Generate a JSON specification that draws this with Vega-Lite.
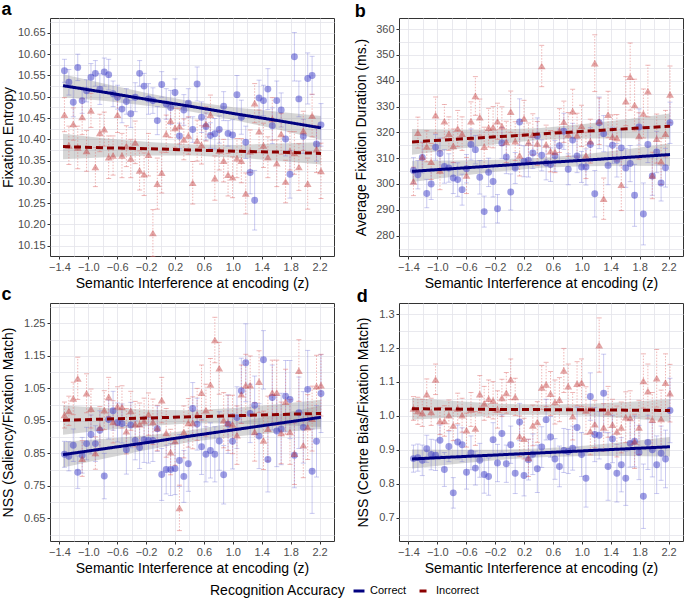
{
"$schema": "https://vega.github.io/schema/vega-lite/v6.json",
"background": "white",
"padding": {"left": 0, "top": 0, "right": 0, "bottom": 0},
"config": {
  "font": "Liberation Sans",
  "view": {"stroke": "#333333", "strokeWidth": 1},
  "axis": {"domain": false, "gridColor": "#e3e3ea", "gridWidth": 0.8, "tickColor": "#333333", "tickSize": 3, "labelColor": "#4d4d4d", "labelFontSize": 11, "labelPadding": 2, "titleFontSize": 14, "titleFontWeight": "normal", "titleColor": "black", "labelOverlap": false, "titlePadding": 4},
  "title": {"anchor": "start", "fontSize": 18, "fontWeight": "bold", "color": "black", "offset": -3, "frame": "bounds"},
  "legend": {"titleFontSize": 14, "titleFontWeight": "normal", "titleColor": "black", "labelFontSize": 11, "labelColor": "black"}
},
"datasets": {
"pts": [
{"x":-1.33,"ac":10.561,"ace":0.027,"ai":10.458,"aie":0.040,"bc":305.2,"bce":5,"bi":301.0,"bie":5.5,"cc":0.847,"cce":0.040,"ci":0.968,"cie":0.040,"dc":0.874,"dce":0.040,"di":1.022,"die":0.035},
{"x":-1.269,"ac":10.534,"ace":0.030,"ai":10.386,"aie":0.045,"bc":303.6,"bce":5.5,"bi":319.9,"bie":6,"cc":0.841,"cce":0.045,"ci":0.981,"cie":0.045,"dc":0.877,"dce":0.040,"di":1.015,"die":0.040},
{"x":-1.208,"ac":10.487,"ace":0.034,"ai":10.436,"aie":0.038,"bc":310.3,"bce":6,"bi":310.5,"bie":5.5,"cc":0.875,"cce":0.050,"ci":1.019,"cie":0.050,"dc":0.869,"dce":0.045,"di":1.009,"die":0.040},
{"x":-1.146,"ac":10.569,"ace":0.031,"ai":10.381,"aie":0.050,"bc":296.3,"bce":5.5,"bi":314.6,"bie":6,"cc":0.792,"cce":0.050,"ci":1.081,"cie":0.065,"dc":0.903,"dce":0.040,"di":1.064,"die":0.045},
{"x":-1.085,"ac":10.491,"ace":0.030,"ai":10.453,"aie":0.042,"bc":300.0,"bce":6,"bi":308.7,"bie":7,"cc":0.844,"cce":0.055,"ci":0.834,"cie":0.055,"dc":0.886,"dce":0.045,"di":1.012,"die":0.040},
{"x":-1.024,"ac":10.514,"ace":0.026,"ai":10.373,"aie":0.048,"bc":314.2,"bce":5,"bi":326.7,"bie":7,"cc":0.880,"cce":0.050,"ci":1.035,"cie":0.060,"dc":0.884,"dce":0.045,"di":1.108,"die":0.045},
{"x":-0.963,"ac":10.546,"ace":0.032,"ai":10.468,"aie":0.040,"bc":311.8,"bce":6,"bi":305.3,"bie":7.5,"cc":0.908,"cce":0.060,"ci":0.988,"cie":0.060,"dc":0.928,"dce":0.045,"di":0.985,"die":0.040},
{"x":-0.902,"ac":10.555,"ace":0.030,"ai":10.335,"aie":0.046,"bc":306.8,"bce":6.5,"bi":324.3,"bie":6.5,"cc":0.880,"cce":0.055,"ci":0.851,"cie":0.050,"dc":0.842,"dce":0.050,"di":0.985,"die":0.045},
{"x":-0.84,"ac":10.518,"ace":0.036,"ai":10.415,"aie":0.044,"bc":306.2,"bce":5.5,"bi":319.5,"bie":6.5,"cc":0.921,"cce":0.060,"ci":0.929,"cie":0.065,"dc":0.910,"dce":0.045,"di":1.002,"die":0.045},
{"x":-0.779,"ac":10.558,"ace":0.033,"ai":10.424,"aie":0.040,"bc":302.3,"bce":6,"bi":314.8,"bie":6.5,"cc":0.780,"cce":0.070,"ci":0.983,"cie":0.060,"dc":0.773,"dce":0.045,"di":0.972,"die":0.045},
{"x":-0.718,"ac":10.552,"ace":0.036,"ai":10.358,"aie":0.050,"bc":301.7,"bce":6.5,"bi":321.5,"bie":7,"cc":0.954,"cce":0.060,"ci":1.024,"cie":0.060,"dc":0.923,"dce":0.050,"di":1.022,"die":0.045},
{"x":-0.657,"ac":10.507,"ace":0.030,"ai":10.362,"aie":0.046,"bc":297.8,"bce":6,"bi":319.5,"bie":6.5,"cc":0.981,"cce":0.060,"ci":0.947,"cie":0.065,"dc":0.915,"dce":0.050,"di":1.002,"die":0.050},
{"x":-0.596,"ac":10.499,"ace":0.028,"ai":10.458,"aie":0.042,"bc":305.9,"bce":5.5,"bi":303.3,"bie":7,"cc":0.945,"cce":0.060,"ci":0.995,"cie":0.060,"dc":0.834,"dce":0.050,"di":0.958,"die":0.050},
{"x":-0.534,"ac":10.471,"ace":0.032,"ai":10.362,"aie":0.052,"bc":315.3,"bce":6,"bi":324.3,"bie":7.5,"cc":0.942,"cce":0.060,"ci":0.993,"cie":0.065,"dc":0.891,"dce":0.050,"di":1.019,"die":0.050},
{"x":-0.473,"ac":10.489,"ace":0.030,"ai":10.384,"aie":0.048,"bc":313.3,"bce":5.5,"bi":334.1,"bie":7.5,"cc":0.861,"cce":0.075,"ci":0.918,"cie":0.070,"dc":0.846,"dce":0.050,"di":0.963,"die":0.050},
{"x":-0.412,"ac":10.460,"ace":0.032,"ai":10.355,"aie":0.045,"bc":302.6,"bce":6.5,"bi":325.9,"bie":7,"cc":0.937,"cce":0.070,"ci":0.981,"cie":0.060,"dc":0.869,"dce":0.050,"di":1.064,"die":0.055},
{"x":-0.351,"ac":10.499,"ace":0.034,"ai":10.393,"aie":0.050,"bc":289.3,"bce":6,"bi":314.5,"bie":7.5,"cc":0.890,"cce":0.060,"ci":0.940,"cie":0.070,"dc":0.827,"dce":0.055,"di":1.037,"die":0.050},
{"x":-0.29,"ac":10.555,"ace":0.030,"ai":10.327,"aie":0.046,"bc":304.5,"bce":5.5,"bi":321.8,"bie":7.5,"cc":0.868,"cce":0.065,"ci":0.940,"cie":0.065,"dc":0.821,"dce":0.055,"di":1.051,"die":0.055},
{"x":-0.228,"ac":10.525,"ace":0.030,"ai":10.318,"aie":0.050,"bc":301.0,"bce":6,"bi":322.0,"bie":8,"cc":0.892,"cce":0.070,"ci":0.950,"cie":0.070,"dc":0.930,"dce":0.050,"di":1.046,"die":0.055},
{"x":-0.167,"ac":10.495,"ace":0.036,"ai":10.364,"aie":0.050,"bc":290.4,"bce":5.5,"bi":324.3,"bie":7,"cc":0.890,"cce":0.070,"ci":0.971,"cie":0.065,"dc":0.861,"dce":0.055,"di":1.019,"die":0.055},
{"x":-0.106,"ac":10.491,"ace":0.030,"ai":10.180,"aie":0.055,"bc":315.9,"bce":6,"bi":322.4,"bie":7.5,"cc":0.890,"cce":0.065,"ci":0.947,"cie":0.070,"dc":0.948,"dce":0.055,"di":1.053,"die":0.055},
{"x":-0.045,"ac":10.444,"ace":0.033,"ai":10.296,"aie":0.060,"bc":310.5,"bce":6.5,"bi":316.3,"bie":8,"cc":0.926,"cce":0.070,"ci":0.928,"cie":0.070,"dc":0.859,"dce":0.055,"di":1.068,"die":0.060},
{"x":0.016,"ac":10.529,"ace":0.030,"ai":10.322,"aie":0.048,"bc":296.9,"bce":7,"bi":328.0,"bie":8,"cc":0.785,"cce":0.080,"ci":1.014,"cie":0.070,"dc":0.915,"dce":0.055,"di":1.108,"die":0.060},
{"x":0.078,"ac":10.483,"ace":0.036,"ai":10.413,"aie":0.044,"bc":306.2,"bce":6,"bi":316.6,"bie":7.5,"cc":0.800,"cce":0.075,"ci":0.913,"cie":0.075,"dc":0.831,"dce":0.060,"di":1.056,"die":0.055},
{"x":0.139,"ac":10.475,"ace":0.040,"ai":10.444,"aie":0.040,"bc":324.0,"bce":9,"bi":311.1,"bie":8,"cc":0.800,"cce":0.080,"ci":0.854,"cie":0.070,"dc":0.982,"dce":0.055,"di":0.940,"die":0.060},
{"x":0.2,"ac":10.510,"ace":0.032,"ai":10.427,"aie":0.046,"bc":308.8,"bce":6,"bi":325.4,"bie":7,"cc":0.803,"cce":0.080,"ci":0.888,"cie":0.075,"dc":0.824,"dce":0.060,"di":0.933,"die":0.060},
{"x":0.261,"ac":10.408,"ace":0.030,"ai":10.431,"aie":0.042,"bc":309.2,"bce":6.5,"bi":316.1,"bie":7.5,"cc":0.828,"cce":0.080,"ci":0.682,"cie":0.070,"dc":0.871,"dce":0.060,"di":0.876,"die":0.055},
{"x":0.322,"ac":10.469,"ace":0.036,"ai":10.400,"aie":0.048,"bc":312.0,"bce":6,"bi":319.2,"bie":8,"cc":0.779,"cce":0.080,"ci":0.916,"cie":0.080,"dc":0.887,"dce":0.060,"di":0.972,"die":0.060},
{"x":0.384,"ac":10.485,"ace":0.034,"ai":10.409,"aie":0.044,"bc":318.6,"bce":7,"bi":315.7,"bie":8.5,"cc":0.818,"cce":0.085,"ci":0.944,"cie":0.075,"dc":0.844,"dce":0.070,"di":0.982,"die":0.060},
{"x":0.445,"ac":10.423,"ace":0.030,"ai":10.298,"aie":0.050,"bc":311.1,"bce":6,"bi":345.7,"bie":8,"cc":0.988,"cce":0.080,"ci":0.944,"cie":0.080,"dc":0.908,"dce":0.060,"di":1.084,"die":0.065},
{"x":0.506,"ac":10.530,"ace":0.040,"ai":10.397,"aie":0.048,"bc":308.1,"bce":6.5,"bi":315.3,"bie":7.5,"cc":0.940,"cce":0.080,"ci":0.970,"cie":0.080,"dc":0.989,"dce":0.060,"di":1.093,"die":0.065},
{"x":0.567,"ac":10.452,"ace":0.036,"ai":10.387,"aie":0.045,"bc":307.5,"bce":6.5,"bi":312.7,"bie":8,"cc":0.870,"cce":0.085,"ci":1.037,"cie":0.085,"dc":0.938,"dce":0.060,"di":1.066,"die":0.065},
{"x":0.628,"ac":10.430,"ace":0.032,"ai":10.436,"aie":0.040,"bc":310.9,"bce":6,"bi":312.4,"bie":8,"cc":0.847,"cce":0.085,"ci":0.983,"cie":0.080,"dc":0.873,"dce":0.060,"di":1.041,"die":0.065},
{"x":0.69,"ac":10.409,"ace":0.030,"ai":10.458,"aie":0.046,"bc":314.8,"bce":6.5,"bi":320.7,"bie":8.5,"cc":0.859,"cce":0.085,"ci":1.062,"cie":0.080,"dc":0.851,"dce":0.060,"di":1.048,"die":0.065},
{"x":0.751,"ac":10.413,"ace":0.036,"ai":10.309,"aie":0.052,"bc":320.4,"bce":7,"bi":324.1,"bie":8,"cc":0.847,"cce":0.085,"ci":1.199,"cie":0.070,"dc":0.898,"dce":0.065,"di":1.134,"die":0.065},
{"x":0.812,"ac":10.423,"ace":0.032,"ai":10.374,"aie":0.046,"bc":305.7,"bce":6,"bi":319.2,"bie":8.5,"cc":0.888,"cce":0.090,"ci":1.112,"cie":0.080,"dc":0.895,"dce":0.065,"di":1.088,"die":0.065},
{"x":0.873,"ac":10.478,"ace":0.034,"ai":10.350,"aie":0.050,"bc":317.0,"bce":6.5,"bi":328.2,"bie":8.5,"cc":0.784,"cce":0.090,"ci":0.952,"cie":0.085,"dc":0.905,"dce":0.065,"di":0.999,"die":0.070},
{"x":0.934,"ac":10.414,"ace":0.030,"ai":10.317,"aie":0.050,"bc":310.9,"bce":6.5,"bi":318.9,"bie":8.5,"cc":0.940,"cce":0.090,"ci":0.944,"cie":0.085,"dc":0.966,"dce":0.060,"di":1.095,"die":0.065},
{"x":0.996,"ac":10.410,"ace":0.036,"ai":10.311,"aie":0.048,"bc":306.6,"bce":6,"bi":322.5,"bie":8,"cc":0.887,"cce":0.085,"ci":0.939,"cie":0.090,"dc":0.886,"dce":0.065,"di":1.098,"die":0.070},
{"x":1.057,"ac":10.505,"ace":0.045,"ai":10.356,"aie":0.046,"bc":306.6,"bce":7,"bi":311.1,"bie":9,"cc":0.960,"cce":0.095,"ci":0.906,"cie":0.090,"dc":0.816,"dce":0.085,"di":1.016,"die":0.070},
{"x":1.118,"ac":10.452,"ace":0.040,"ai":10.350,"aie":0.052,"bc":315.3,"bce":6.5,"bi":316.6,"bie":8.5,"cc":1.043,"cce":0.100,"ci":1.032,"cie":0.090,"dc":1.057,"dce":0.070,"di":0.955,"die":0.070},
{"x":1.179,"ac":10.393,"ace":0.038,"ai":10.273,"aie":0.048,"bc":296.2,"bce":9,"bi":346.8,"bie":11,"cc":1.129,"cce":0.120,"ci":1.060,"cie":0.095,"dc":0.945,"dce":0.080,"di":0.976,"die":0.070},
{"x":1.24,"ac":10.322,"ace":0.050,"ai":10.372,"aie":0.050,"bc":323.7,"bce":10,"bi":324.3,"bie":9,"cc":0.973,"cce":0.090,"ci":1.060,"cie":0.090,"dc":0.943,"dce":0.070,"di":1.209,"die":0.080},
{"x":1.302,"ac":10.257,"ace":0.070,"ai":10.485,"aie":0.046,"bc":319.5,"bce":7,"bi":294.3,"bie":8,"cc":0.998,"cce":0.090,"ci":0.916,"cie":0.090,"dc":1.067,"dce":0.115,"di":0.966,"die":0.070},
{"x":1.363,"ac":10.497,"ace":0.042,"ai":10.419,"aie":0.050,"bc":307.2,"bce":7.5,"bi":326.9,"bie":9,"cc":0.903,"cce":0.100,"ci":1.071,"cie":0.095,"dc":0.851,"dce":0.100,"di":1.012,"die":0.075},
{"x":1.424,"ac":10.491,"ace":0.036,"ai":10.386,"aie":0.052,"bc":315.0,"bce":7,"bi":318.3,"bie":8.5,"cc":1.138,"cce":0.090,"ci":0.890,"cie":0.090,"dc":0.932,"dce":0.070,"di":0.974,"die":0.075},
{"x":1.485,"ac":10.518,"ace":0.048,"ai":10.358,"aie":0.048,"bc":309.2,"bce":6.5,"bi":317.9,"bie":9,"cc":0.831,"cce":0.100,"ci":0.926,"cie":0.100,"dc":0.831,"dce":0.085,"di":0.954,"die":0.075},
{"x":1.546,"ac":10.432,"ace":0.042,"ai":10.448,"aie":0.050,"bc":314.0,"bce":7,"bi":299.7,"bie":10,"cc":1.022,"cce":0.100,"ci":1.037,"cie":0.100,"dc":0.856,"dce":0.080,"di":0.966,"die":0.075},
{"x":1.608,"ac":10.491,"ace":0.046,"ai":10.344,"aie":0.055,"bc":306.2,"bce":7.5,"bi":332.1,"bie":9.5,"cc":0.919,"cce":0.110,"ci":1.037,"cie":0.100,"dc":0.816,"dce":0.080,"di":0.996,"die":0.075},
{"x":1.669,"ac":10.469,"ace":0.040,"ai":10.413,"aie":0.048,"bc":307.9,"bce":7,"bi":341.6,"bie":13,"cc":0.925,"cce":0.110,"ci":0.913,"cie":0.095,"dc":0.919,"dce":0.070,"di":0.994,"die":0.080},
{"x":1.73,"ac":10.401,"ace":0.040,"ai":10.301,"aie":0.050,"bc":295.6,"bce":12,"bi":330.6,"bie":10,"cc":1.026,"cce":0.110,"ci":1.009,"cie":0.100,"dc":0.925,"dce":0.075,"di":0.925,"die":0.080},
{"x":1.791,"ac":10.318,"ace":0.056,"ai":10.373,"aie":0.045,"bc":322.1,"bce":7,"bi":318.6,"bie":9,"cc":1.016,"cce":0.120,"ci":0.916,"cie":0.100,"dc":0.892,"dce":0.080,"di":0.966,"die":0.080},
{"x":1.852,"ac":10.594,"ace":0.057,"ai":10.368,"aie":0.050,"bc":288.4,"bce":12,"bi":327.3,"bie":9.5,"cc":0.844,"cce":0.100,"ci":0.849,"cie":0.095,"dc":0.763,"dce":0.095,"di":1.103,"die":0.080},
{"x":1.914,"ac":10.495,"ace":0.042,"ai":10.335,"aie":0.055,"bc":315.3,"bce":7,"bi":336.0,"bie":10,"cc":0.975,"cce":0.110,"ci":1.105,"cie":0.095,"dc":0.922,"dce":0.080,"di":1.073,"die":0.080},
{"x":1.975,"ac":10.407,"ace":0.040,"ai":10.420,"aie":0.046,"bc":303.1,"bce":7.5,"bi":303.3,"bie":9,"cc":0.930,"cce":0.110,"ci":0.875,"cie":0.100,"dc":0.900,"dce":0.080,"di":0.989,"die":0.080},
{"x":2.036,"ac":10.543,"ace":0.060,"ai":10.296,"aie":0.060,"bc":312.4,"bce":8,"bi":317.6,"bie":9.5,"cc":1.047,"cce":0.120,"ci":0.931,"cie":0.100,"dc":0.856,"dce":0.085,"di":1.111,"die":0.085},
{"x":2.097,"ac":10.550,"ace":0.045,"ai":10.456,"aie":0.050,"bc":300.4,"bce":7,"bi":308.8,"bie":9,"cc":0.795,"cce":0.130,"ci":0.957,"cie":0.100,"dc":0.890,"dce":0.080,"di":0.991,"die":0.085},
{"x":2.158,"ac":10.389,"ace":0.040,"ai":10.377,"aie":0.055,"bc":306.3,"bce":7.5,"bi":319.5,"bie":9,"cc":0.887,"cce":0.110,"ci":1.057,"cie":0.095,"dc":0.873,"dce":0.085,"di":1.098,"die":0.085},
{"x":2.22,"ac":10.434,"ace":0.050,"ai":10.326,"aie":0.065,"bc":323.7,"bce":8,"bi":334.7,"bie":11,"cc":1.034,"cce":0.120,"ci":1.060,"cie":0.095,"dc":1.016,"dce":0.095,"di":1.067,"die":0.085}
],
"fa": [
{"g":"C","x":-1.35,"f":10.526,"lo":10.499,"hi":10.553},
{"g":"C","x":-0.755,"f":10.510,"lo":10.490,"hi":10.530},
{"g":"C","x":-0.16,"f":10.493,"lo":10.4785,"hi":10.5075},
{"g":"C","x":0.435,"f":10.477,"lo":10.465,"hi":10.489},
{"g":"C","x":1.03,"f":10.460,"lo":10.445,"hi":10.475},
{"g":"C","x":1.625,"f":10.444,"lo":10.423,"hi":10.465},
{"g":"C","x":2.22,"f":10.427,"lo":10.399,"hi":10.455},
{"g":"I","x":-1.35,"f":10.383,"lo":10.353,"hi":10.413},
{"g":"I","x":-0.755,"f":10.380,"lo":10.358,"hi":10.402},
{"g":"I","x":-0.16,"f":10.378,"lo":10.362,"hi":10.394},
{"g":"I","x":0.435,"f":10.375,"lo":10.362,"hi":10.388},
{"g":"I","x":1.03,"f":10.372,"lo":10.357,"hi":10.387},
{"g":"I","x":1.625,"f":10.370,"lo":10.350,"hi":10.390},
{"g":"I","x":2.22,"f":10.367,"lo":10.341,"hi":10.393}
],
"fb": [
{"g":"C","x":-1.35,"f":304.9,"lo":300.8,"hi":309.0},
{"g":"C","x":-0.755,"f":306.0,"lo":302.9,"hi":309.1},
{"g":"C","x":-0.16,"f":307.1,"lo":304.8,"hi":309.4},
{"g":"C","x":0.435,"f":308.2,"lo":306.3,"hi":310.1},
{"g":"C","x":1.03,"f":309.2,"lo":306.9,"hi":311.5},
{"g":"C","x":1.625,"f":310.3,"lo":307.1,"hi":313.5},
{"g":"C","x":2.22,"f":311.4,"lo":307.0,"hi":315.8},
{"g":"I","x":-1.35,"f":316.3,"lo":311.3,"hi":321.3},
{"g":"I","x":-0.755,"f":317.3,"lo":313.5,"hi":321.1},
{"g":"I","x":-0.16,"f":318.3,"lo":315.5,"hi":321.1},
{"g":"I","x":0.435,"f":319.4,"lo":317.1,"hi":321.7},
{"g":"I","x":1.03,"f":320.4,"lo":317.6,"hi":323.2},
{"g":"I","x":1.625,"f":321.4,"lo":317.7,"hi":325.1},
{"g":"I","x":2.22,"f":322.4,"lo":317.5,"hi":327.3}
],
"fc": [
{"g":"C","x":-1.35,"f":0.846,"lo":0.806,"hi":0.886},
{"g":"C","x":-0.755,"f":0.865,"lo":0.835,"hi":0.895},
{"g":"C","x":-0.16,"f":0.884,"lo":0.862,"hi":0.906},
{"g":"C","x":0.435,"f":0.904,"lo":0.886,"hi":0.922},
{"g":"C","x":1.03,"f":0.923,"lo":0.902,"hi":0.944},
{"g":"C","x":1.625,"f":0.942,"lo":0.914,"hi":0.970},
{"g":"C","x":2.22,"f":0.961,"lo":0.925,"hi":0.997},
{"g":"I","x":-1.35,"f":0.952,"lo":0.907,"hi":0.997},
{"g":"I","x":-0.755,"f":0.9555,"lo":0.9215,"hi":0.9895},
{"g":"I","x":-0.16,"f":0.959,"lo":0.934,"hi":0.984},
{"g":"I","x":0.435,"f":0.9625,"lo":0.9425,"hi":0.9825},
{"g":"I","x":1.03,"f":0.966,"lo":0.942,"hi":0.990},
{"g":"I","x":1.625,"f":0.9695,"lo":0.9375,"hi":1.0015},
{"g":"I","x":2.22,"f":0.973,"lo":0.931,"hi":1.015}
],
"fd": [
{"g":"C","x":-1.35,"f":0.873,"lo":0.845,"hi":0.901},
{"g":"C","x":-0.755,"f":0.879,"lo":0.858,"hi":0.900},
{"g":"C","x":-0.16,"f":0.885,"lo":0.870,"hi":0.900},
{"g":"C","x":0.435,"f":0.891,"lo":0.878,"hi":0.904},
{"g":"C","x":1.03,"f":0.897,"lo":0.882,"hi":0.912},
{"g":"C","x":1.625,"f":0.903,"lo":0.882,"hi":0.924},
{"g":"C","x":2.22,"f":0.909,"lo":0.880,"hi":0.938},
{"g":"I","x":-1.35,"f":1.021,"lo":0.989,"hi":1.053},
{"g":"I","x":-0.755,"f":1.020,"lo":0.996,"hi":1.044},
{"g":"I","x":-0.16,"f":1.019,"lo":1.002,"hi":1.036},
{"g":"I","x":0.435,"f":1.0185,"lo":1.0035,"hi":1.0335},
{"g":"I","x":1.03,"f":1.018,"lo":1.001,"hi":1.035},
{"g":"I","x":1.625,"f":1.017,"lo":0.993,"hi":1.041},
{"g":"I","x":2.22,"f":1.016,"lo":0.983,"hi":1.049}
]
},
"columns": 2,
"bounds": "flush",
"spacing": {"row": 47, "column": 65},
"concat": [
{
 "width": 284, "height": 238,
 "title": {"text": "a"},
 "encoding": {
  "x": {"field": "x", "type": "quantitative", "title": "Semantic Interference at encoding (z)", "scale": {"domain": [-1.53, 2.4], "nice": false, "zero": false},
    "axis": {"labelOverlap": false, "values": [-1.4,-1.2,-1.0,-0.8,-0.6,-0.4,-0.2,0,0.2,0.4,0.6,0.8,1.0,1.2,1.4,1.6,1.8,2.0,2.2],
      "labelExpr": "abs((datum.value+1.4)/0.4 - round((datum.value+1.4)/0.4)) < 0.01 ? replace(format(datum.value, '.1f'), '-', '\u2212') : ''",
      "tickOpacity": {"condition": {"test": "abs((datum.value+1.4)/0.4 - round((datum.value+1.4)/0.4)) < 0.01", "value": 1}, "value": 0}}},
  "y": {"field": "v", "type": "quantitative", "title": "Fixation Entropy", "scale": {"domain": [10.126, 10.685], "nice": false, "zero": false},
    "axis": {"labelOverlap": false, "titlePadding": 2, "values": [10.15,10.175,10.2,10.225,10.25,10.275,10.3,10.325,10.35,10.375,10.4,10.425,10.45,10.475,10.5,10.525,10.55,10.575,10.6,10.625,10.65,10.675],
      "labelExpr": "abs(datum.value*20 - round(datum.value*20)) < 0.001 ? format(datum.value, '.2f') : ''",
      "tickOpacity": {"condition": {"test": "abs(datum.value*20 - round(datum.value*20)) < 0.001", "value": 1}, "value": 0}}}
 },
 "layer": [
  {"data": {"name": "fa"}, "transform": [{"fold": ["lo"], "as": ["k", "v"]}], "mark": {"type": "area", "fill": "#999999", "opacity": 0.4},
   "encoding": {"y2": {"field": "hi"}, "detail": {"field": "g"}}},
  {"data": {"name": "pts"}, "transform": [{"fold": ["ac"], "as": ["k", "v"]}, {"fold": ["ace"], "as": ["k2", "e"]}], "mark": {"type": "errorbar", "color": "#6a6ad6", "opacity": 0.35, "thickness": 1, "ticks": {"size": 5}},
   "encoding": {"yError": {"field": "e"}}},
  {"data": {"name": "pts"}, "transform": [{"fold": ["ai"], "as": ["k", "v"]}, {"fold": ["aie"], "as": ["k2", "e"]}], "mark": {"type": "errorbar", "color": "#e07070", "opacity": 0.5, "thickness": 1, "ticks": {"size": 5, "strokeDash": [1.5, 1.5]}, "rule": {"strokeDash": [1.5, 1.5]}},
   "encoding": {"yError": {"field": "e"}}},
  {"data": {"name": "pts"}, "transform": [{"fold": ["ac"], "as": ["k", "v"]}], "mark": {"type": "point", "shape": "circle", "filled": true, "color": "#3434c4", "opacity": 0.48, "size": 48, "strokeWidth": 0}},
  {"data": {"name": "pts"}, "transform": [{"fold": ["ai"], "as": ["k", "v"]}], "mark": {"type": "point", "shape": "triangle-up", "filled": true, "color": "#c03838", "opacity": 0.45, "size": 60, "strokeWidth": 0}},
  {"data": {"name": "fa"}, "transform": [{"fold": ["f"], "as": ["k", "v"]}], "mark": {"type": "line", "strokeWidth": 3},
   "encoding": {
    "stroke": {"field": "g", "type": "nominal", "scale": {"domain": ["C", "I"], "range": ["#000080", "#8b0000"]},
      "legend": {"title": "Recognition Accuracy", "orient": "none", "legendX": 160, "legendY": 566, "direction": "horizontal", "titleOrient": "left", "titlePadding": 6, "columnPadding": 6, "labelOffset": 4, "labelExpr": "datum.label == 'C' ? 'Correct' : 'Incorrect'", "symbolStrokeWidth": 3, "symbolSize": 120}},
    "strokeDash": {"field": "g", "type": "nominal", "scale": {"domain": ["C", "I"], "range": [[1, 0], [7, 4]]},
      "legend": {"title": "Recognition Accuracy", "orient": "none", "legendX": 160, "legendY": 566, "direction": "horizontal", "titleOrient": "left", "titlePadding": 6, "columnPadding": 6, "labelOffset": 4, "labelExpr": "datum.label == 'C' ? 'Correct' : 'Incorrect'", "symbolStrokeWidth": 3, "symbolSize": 120}}}}
 ]
},
{
 "width": 284, "height": 238,
 "title": {"text": "b"},
 "encoding": {
  "x": {"field": "x", "type": "quantitative", "title": "Semantic Interference at encoding (z)", "scale": {"domain": [-1.53, 2.4], "nice": false, "zero": false},
    "axis": {"labelOverlap": false, "values": [-1.4,-1.2,-1.0,-0.8,-0.6,-0.4,-0.2,0,0.2,0.4,0.6,0.8,1.0,1.2,1.4,1.6,1.8,2.0,2.2],
      "labelExpr": "abs((datum.value+1.4)/0.4 - round((datum.value+1.4)/0.4)) < 0.01 ? replace(format(datum.value, '.1f'), '-', '\u2212') : ''",
      "tickOpacity": {"condition": {"test": "abs((datum.value+1.4)/0.4 - round((datum.value+1.4)/0.4)) < 0.01", "value": 1}, "value": 0}}},
  "y": {"field": "v", "type": "quantitative", "title": "Average Fixation Duration (ms.)", "scale": {"domain": [272.1, 364.3], "nice": false, "zero": false},
    "axis": {"labelOverlap": false, "titlePadding": 7, "values": [275,280,285,290,295,300,305,310,315,320,325,330,335,340,345,350,355,360],
      "labelExpr": "datum.value % 10 == 0 ? format(datum.value, 'd') : ''",
      "tickOpacity": {"condition": {"test": "datum.value % 10 == 0", "value": 1}, "value": 0}}}
 },
 "layer": [
  {"data": {"name": "fb"}, "transform": [{"fold": ["lo"], "as": ["k", "v"]}], "mark": {"type": "area", "fill": "#999999", "opacity": 0.4},
   "encoding": {"y2": {"field": "hi"}, "detail": {"field": "g"}}},
  {"data": {"name": "pts"}, "transform": [{"fold": ["bc"], "as": ["k", "v"]}, {"fold": ["bce"], "as": ["k2", "e"]}], "mark": {"type": "errorbar", "color": "#6a6ad6", "opacity": 0.35, "thickness": 1, "ticks": {"size": 5}},
   "encoding": {"yError": {"field": "e"}}},
  {"data": {"name": "pts"}, "transform": [{"fold": ["bi"], "as": ["k", "v"]}, {"fold": ["bie"], "as": ["k2", "e"]}], "mark": {"type": "errorbar", "color": "#e07070", "opacity": 0.5, "thickness": 1, "ticks": {"size": 5, "strokeDash": [1.5, 1.5]}, "rule": {"strokeDash": [1.5, 1.5]}},
   "encoding": {"yError": {"field": "e"}}},
  {"data": {"name": "pts"}, "transform": [{"fold": ["bc"], "as": ["k", "v"]}], "mark": {"type": "point", "shape": "circle", "filled": true, "color": "#3434c4", "opacity": 0.48, "size": 48, "strokeWidth": 0}},
  {"data": {"name": "pts"}, "transform": [{"fold": ["bi"], "as": ["k", "v"]}], "mark": {"type": "point", "shape": "triangle-up", "filled": true, "color": "#c03838", "opacity": 0.45, "size": 60, "strokeWidth": 0}},
  {"data": {"name": "fb"}, "transform": [{"fold": ["f"], "as": ["k", "v"]}], "mark": {"type": "line", "strokeWidth": 3},
   "encoding": {
    "stroke": {"field": "g", "type": "nominal", "scale": {"domain": ["C", "I"], "range": ["#000080", "#8b0000"]},
      "legend": {"title": "Recognition Accuracy", "orient": "none", "legendX": 160, "legendY": 566, "direction": "horizontal", "titleOrient": "left", "titlePadding": 6, "columnPadding": 6, "labelOffset": 4, "labelExpr": "datum.label == 'C' ? 'Correct' : 'Incorrect'", "symbolStrokeWidth": 3, "symbolSize": 120}},
    "strokeDash": {"field": "g", "type": "nominal", "scale": {"domain": ["C", "I"], "range": [[1, 0], [7, 4]]},
      "legend": {"title": "Recognition Accuracy", "orient": "none", "legendX": 160, "legendY": 566, "direction": "horizontal", "titleOrient": "left", "titlePadding": 6, "columnPadding": 6, "labelOffset": 4, "labelExpr": "datum.label == 'C' ? 'Correct' : 'Incorrect'", "symbolStrokeWidth": 3, "symbolSize": 120}}}}
 ]
},
{
 "width": 284, "height": 238,
 "title": {"text": "c"},
 "encoding": {
  "x": {"field": "x", "type": "quantitative", "title": "Semantic Interference at encoding (z)", "scale": {"domain": [-1.53, 2.4], "nice": false, "zero": false},
    "axis": {"labelOverlap": false, "values": [-1.4,-1.2,-1.0,-0.8,-0.6,-0.4,-0.2,0,0.2,0.4,0.6,0.8,1.0,1.2,1.4,1.6,1.8,2.0,2.2],
      "labelExpr": "abs((datum.value+1.4)/0.4 - round((datum.value+1.4)/0.4)) < 0.01 ? replace(format(datum.value, '.1f'), '-', '\u2212') : ''",
      "tickOpacity": {"condition": {"test": "abs((datum.value+1.4)/0.4 - round((datum.value+1.4)/0.4)) < 0.01", "value": 1}, "value": 0}}},
  "y": {"field": "v", "type": "quantitative", "title": "NSS (Saliency/Fixation Match)", "scale": {"domain": [0.58, 1.313], "nice": false, "zero": false},
    "axis": {"labelOverlap": false, "titlePadding": 8, "values": [0.6,0.65,0.7,0.75,0.8,0.85,0.9,0.95,1.0,1.05,1.1,1.15,1.2,1.25,1.3],
      "labelExpr": "abs(datum.value*10 - 0.5 - round(datum.value*10 - 0.5)) < 0.001 ? format(datum.value, '.2f') : ''",
      "tickOpacity": {"condition": {"test": "abs(datum.value*10 - 0.5 - round(datum.value*10 - 0.5)) < 0.001", "value": 1}, "value": 0}}}
 },
 "layer": [
  {"data": {"name": "fc"}, "transform": [{"fold": ["lo"], "as": ["k", "v"]}], "mark": {"type": "area", "fill": "#999999", "opacity": 0.4},
   "encoding": {"y2": {"field": "hi"}, "detail": {"field": "g"}}},
  {"data": {"name": "pts"}, "transform": [{"fold": ["cc"], "as": ["k", "v"]}, {"fold": ["cce"], "as": ["k2", "e"]}], "mark": {"type": "errorbar", "color": "#6a6ad6", "opacity": 0.35, "thickness": 1, "ticks": {"size": 5}},
   "encoding": {"yError": {"field": "e"}}},
  {"data": {"name": "pts"}, "transform": [{"fold": ["ci"], "as": ["k", "v"]}, {"fold": ["cie"], "as": ["k2", "e"]}], "mark": {"type": "errorbar", "color": "#e07070", "opacity": 0.5, "thickness": 1, "ticks": {"size": 5, "strokeDash": [1.5, 1.5]}, "rule": {"strokeDash": [1.5, 1.5]}},
   "encoding": {"yError": {"field": "e"}}},
  {"data": {"name": "pts"}, "transform": [{"fold": ["cc"], "as": ["k", "v"]}], "mark": {"type": "point", "shape": "circle", "filled": true, "color": "#3434c4", "opacity": 0.48, "size": 48, "strokeWidth": 0}},
  {"data": {"name": "pts"}, "transform": [{"fold": ["ci"], "as": ["k", "v"]}], "mark": {"type": "point", "shape": "triangle-up", "filled": true, "color": "#c03838", "opacity": 0.45, "size": 60, "strokeWidth": 0}},
  {"data": {"name": "fc"}, "transform": [{"fold": ["f"], "as": ["k", "v"]}], "mark": {"type": "line", "strokeWidth": 3},
   "encoding": {
    "stroke": {"field": "g", "type": "nominal", "scale": {"domain": ["C", "I"], "range": ["#000080", "#8b0000"]},
      "legend": {"title": "Recognition Accuracy", "orient": "none", "legendX": 160, "legendY": 566, "direction": "horizontal", "titleOrient": "left", "titlePadding": 6, "columnPadding": 6, "labelOffset": 4, "labelExpr": "datum.label == 'C' ? 'Correct' : 'Incorrect'", "symbolStrokeWidth": 3, "symbolSize": 120}},
    "strokeDash": {"field": "g", "type": "nominal", "scale": {"domain": ["C", "I"], "range": [[1, 0], [7, 4]]},
      "legend": {"title": "Recognition Accuracy", "orient": "none", "legendX": 160, "legendY": 566, "direction": "horizontal", "titleOrient": "left", "titlePadding": 6, "columnPadding": 6, "labelOffset": 4, "labelExpr": "datum.label == 'C' ? 'Correct' : 'Incorrect'", "symbolStrokeWidth": 3, "symbolSize": 120}}}}
 ]
},
{
 "width": 284, "height": 238,
 "title": {"text": "d"},
 "encoding": {
  "x": {"field": "x", "type": "quantitative", "title": "Semantic Interference at encoding (z)", "scale": {"domain": [-1.53, 2.4], "nice": false, "zero": false},
    "axis": {"labelOverlap": false, "values": [-1.4,-1.2,-1.0,-0.8,-0.6,-0.4,-0.2,0,0.2,0.4,0.6,0.8,1.0,1.2,1.4,1.6,1.8,2.0,2.2],
      "labelExpr": "abs((datum.value+1.4)/0.4 - round((datum.value+1.4)/0.4)) < 0.01 ? replace(format(datum.value, '.1f'), '-', '\u2212') : ''",
      "tickOpacity": {"condition": {"test": "abs((datum.value+1.4)/0.4 - round((datum.value+1.4)/0.4)) < 0.01", "value": 1}, "value": 0}}},
  "y": {"field": "v", "type": "quantitative", "title": "NSS (Centre Bias/Fixation Match)", "scale": {"domain": [0.631, 1.333], "nice": false, "zero": false},
    "axis": {"labelOverlap": false, "titlePadding": 8, "values": [0.65,0.7,0.75,0.8,0.85,0.9,0.95,1.0,1.05,1.1,1.15,1.2,1.25,1.3],
      "labelExpr": "abs(datum.value*10 - round(datum.value*10)) < 0.001 ? format(datum.value, '.1f') : ''",
      "tickOpacity": {"condition": {"test": "abs(datum.value*10 - round(datum.value*10)) < 0.001", "value": 1}, "value": 0}}}
 },
 "layer": [
  {"data": {"name": "fd"}, "transform": [{"fold": ["lo"], "as": ["k", "v"]}], "mark": {"type": "area", "fill": "#999999", "opacity": 0.4},
   "encoding": {"y2": {"field": "hi"}, "detail": {"field": "g"}}},
  {"data": {"name": "pts"}, "transform": [{"fold": ["dc"], "as": ["k", "v"]}, {"fold": ["dce"], "as": ["k2", "e"]}], "mark": {"type": "errorbar", "color": "#6a6ad6", "opacity": 0.35, "thickness": 1, "ticks": {"size": 5}},
   "encoding": {"yError": {"field": "e"}}},
  {"data": {"name": "pts"}, "transform": [{"fold": ["di"], "as": ["k", "v"]}, {"fold": ["die"], "as": ["k2", "e"]}], "mark": {"type": "errorbar", "color": "#e07070", "opacity": 0.5, "thickness": 1, "ticks": {"size": 5, "strokeDash": [1.5, 1.5]}, "rule": {"strokeDash": [1.5, 1.5]}},
   "encoding": {"yError": {"field": "e"}}},
  {"data": {"name": "pts"}, "transform": [{"fold": ["dc"], "as": ["k", "v"]}], "mark": {"type": "point", "shape": "circle", "filled": true, "color": "#3434c4", "opacity": 0.48, "size": 48, "strokeWidth": 0}},
  {"data": {"name": "pts"}, "transform": [{"fold": ["di"], "as": ["k", "v"]}], "mark": {"type": "point", "shape": "triangle-up", "filled": true, "color": "#c03838", "opacity": 0.45, "size": 60, "strokeWidth": 0}},
  {"data": {"name": "fd"}, "transform": [{"fold": ["f"], "as": ["k", "v"]}], "mark": {"type": "line", "strokeWidth": 3},
   "encoding": {
    "stroke": {"field": "g", "type": "nominal", "scale": {"domain": ["C", "I"], "range": ["#000080", "#8b0000"]},
      "legend": {"title": "Recognition Accuracy", "orient": "none", "legendX": 160, "legendY": 566, "direction": "horizontal", "titleOrient": "left", "titlePadding": 6, "columnPadding": 6, "labelOffset": 4, "labelExpr": "datum.label == 'C' ? 'Correct' : 'Incorrect'", "symbolStrokeWidth": 3, "symbolSize": 120}},
    "strokeDash": {"field": "g", "type": "nominal", "scale": {"domain": ["C", "I"], "range": [[1, 0], [7, 4]]},
      "legend": {"title": "Recognition Accuracy", "orient": "none", "legendX": 160, "legendY": 566, "direction": "horizontal", "titleOrient": "left", "titlePadding": 6, "columnPadding": 6, "labelOffset": 4, "labelExpr": "datum.label == 'C' ? 'Correct' : 'Incorrect'", "symbolStrokeWidth": 3, "symbolSize": 120}}}}
 ]
}
]
}
